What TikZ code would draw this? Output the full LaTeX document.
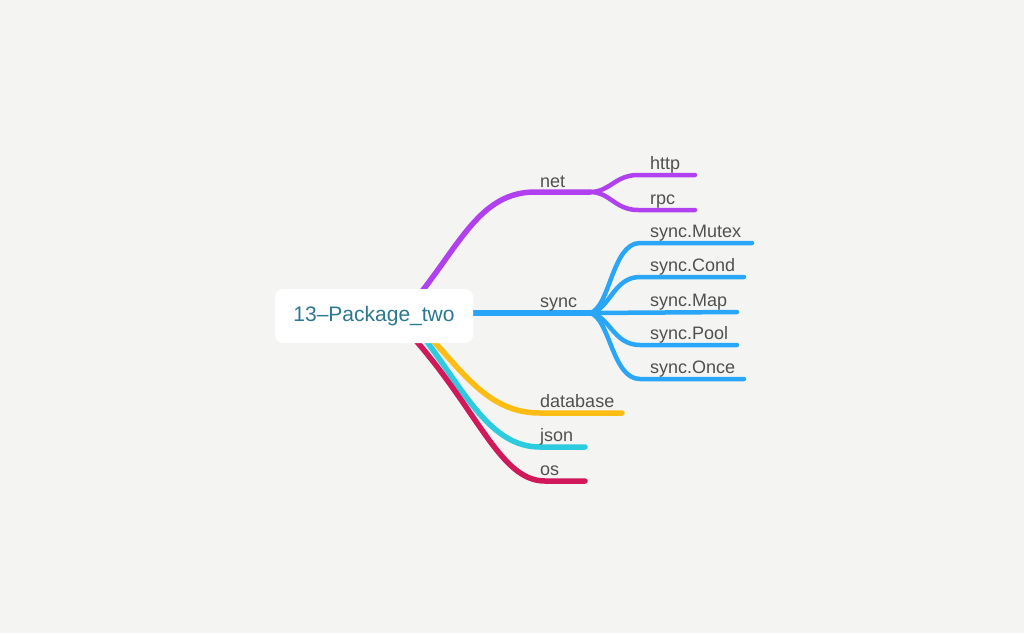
\documentclass[tikz,border=0pt]{standalone}
\usepackage{fontspec}
\setmainfont{Liberation Sans}
\usetikzlibrary{positioning,backgrounds}
\definecolor{paper}{HTML}{F4F5F2}
\definecolor{rootcol}{HTML}{2C7890}
\definecolor{labcol}{HTML}{505050}
\definecolor{netcol}{HTML}{B040F0}
\definecolor{synccol}{HTML}{2AA6F8}
\definecolor{dbcol}{HTML}{FFBC12}
\definecolor{jsoncol}{HTML}{2CCBE0}
\definecolor{oscol}{HTML}{D0185A}

\begin{document}
\begin{tikzpicture}[x=1pt,y=-1pt,
  rootbox/.style={fill=white,rounded corners=8pt,minimum width=198pt,minimum height=54pt,text=rootcol,font=\fontsize{21}{21}\selectfont},
  lbl/.style={anchor=base west,inner sep=0pt,text=labcol,font=\fontsize{18}{18}\selectfont},
  limb/.style={line width=5.5pt,line cap=round},
  twig/.style={line width=4.5pt,line cap=round}]
\useasboundingbox (0,0) rectangle (1024,633);

\node[rootbox] (root) at (374,316) {13--Package\_two};

% branch points
\coordinate (net-b)  at (590,192);
\coordinate (sync-b) at (590,313);

% line ends
\coordinate (http-e)  at (695,175);
\coordinate (rpc-e)   at (695,210);
\coordinate (mutex-e) at (752,243);
\coordinate (cond-e)  at (744,277);
\coordinate (map-e)   at (737,312);
\coordinate (pool-e)  at (737,345);
\coordinate (once-e)  at (744,379);
\coordinate (db-e)    at (622,413);
\coordinate (json-e)  at (585,447);
\coordinate (os-e)    at (585,481);

% labels
\node[lbl] (net)  at (540,187) {net};
\node[lbl] (sync) at (540,307) {sync};
\node[lbl] (db)   at (540,407) {database};
\node[lbl] (json) at (540,441) {json};
\node[lbl] (os)   at (540,475) {os};

\node[lbl] (http)  at (650,169) {http};
\node[lbl] (rpc)   at (650,204) {rpc};
\node[lbl] (mutex) at (650,237) {sync.Mutex};
\node[lbl] (cond)  at (650,271) {sync.Cond};
\node[lbl] (map)   at (650,306) {sync.Map};
\node[lbl] (pool)  at (650,339) {sync.Pool};
\node[lbl] (once)  at (650,373) {sync.Once};

\begin{scope}[on background layer]
\fill[paper] (0,0) rectangle (1024,633);

%--- net
\draw[limb,netcol] ([shift={(41,-16)}]root.center) .. controls (460,245) and (480,192) .. (535,192) -- (net-b);
\draw[twig,netcol] (net-b) .. controls (610,192) and (615,175) .. (638,175) -- (http-e);
\draw[twig,netcol] (net-b) .. controls (610,192) and (615,210) .. (638,210) -- (rpc-e);

%--- sync
\draw[limb,synccol] ([yshift=3pt]root.east) -- (sync-b);
\draw[twig,synccol] (sync-b) .. controls (610,308) and (612,243) .. (640,243) -- (mutex-e);
\draw[twig,synccol] (sync-b) .. controls (610,310) and (613,277) .. (640,277) -- (cond-e);
\draw[twig,synccol] (sync-b) -- (map-e);
\draw[twig,synccol] (sync-b) .. controls (610,316) and (613,345) .. (640,345) -- (pool-e);
\draw[twig,synccol] (sync-b) .. controls (610,318) and (612,379) .. (640,379) -- (once-e);

%--- lower branches
\draw[limb,dbcol]   ([shift={(54,19)}]root.center) .. controls (465,375) and (490,413) .. (540,413) -- (db-e);
\draw[limb,jsoncol] ([shift={(48,19)}]root.center) .. controls (465,392) and (490,447) .. (540,447) -- (json-e);
\draw[limb,oscol]   ([shift={(37,19)}]root.center) .. controls (478,410) and (500,481) .. (545,481) -- (os-e);
\end{scope}
\end{tikzpicture}
\end{document}
